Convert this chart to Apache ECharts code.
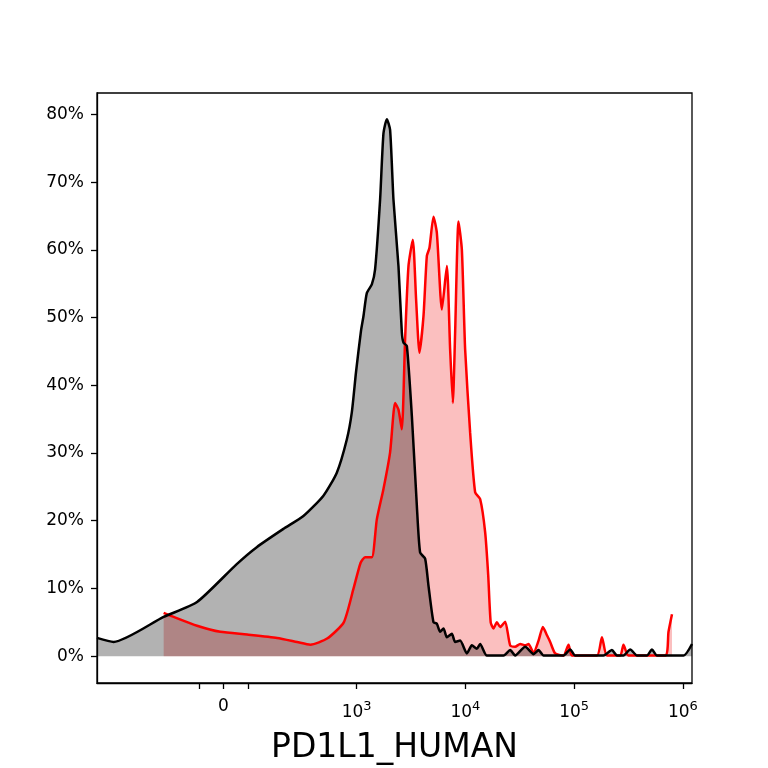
<!DOCTYPE html>
<html>
<head>
    <meta charset="UTF-8">
    <title>PD1L1_HUMAN</title>
    <script src="https://cdn.jsdelivr.net/npm/echarts@6.0.0/dist/echarts.min.js"></script>
    <style>
        html, body { margin: 0; padding: 0; background: #fff; }
        #main { width: 768px; height: 768px; }
    </style>
</head>
<body>
<div id="main"></div>
<script type="text/javascript">
    // x values are positions on the biexponential display axis (10^3 -> 3, 10^4 -> 4 ...)
    var xTickPos = [1.551, 1.775, 2.0, 3, 4, 5, 6];
    var xTickText = ['', '0', '', '10^3', '10^4', '10^5', '10^6'];
    var xLabelPos = [1.775, 3, 4, 5, 6];
    var yTicks = [0, 10, 20, 30, 40, 50, 60, 70, 80];

    // black (control) histogram, % of max
    var controlCurve = [
        [0.613, 2.7], [0.766, 2.1], [1.226, 5.8], [1.533, 8.0], [1.898, 13.6], [2.082, 16.1],
        [2.327, 18.8], [2.511, 20.7], [2.695, 23.7], [2.818, 27.1], [2.910, 32.0], [2.956, 36.0],
        [2.995, 42.0], [3.040, 48.0], [3.063, 50.2], [3.094, 53.6], [3.140, 54.9], [3.170, 57.1],
        [3.216, 67.4], [3.247, 77.2], [3.278, 79.3], [3.308, 77.7], [3.339, 67.4], [3.385, 57.6],
        [3.416, 47.8], [3.431, 46.3], [3.462, 45.8], [3.508, 35.5], [3.554, 22.2], [3.584, 15.3],
        [3.630, 14.4], [3.661, 10.4], [3.707, 5.0], [3.738, 4.8], [3.768, 3.6], [3.799, 4.1],
        [3.830, 2.8], [3.876, 3.3], [3.906, 2.1], [3.952, 2.3], [4.014, 0.4], [4.060, 1.6],
        [4.106, 1.1], [4.136, 1.8], [4.198, 0.1], [4.351, 0.1], [4.412, 0.9], [4.458, 0.1],
        [4.550, 1.4], [4.627, 0.3], [4.673, 0.9], [4.719, 0.1], [4.902, 0.1], [4.964, 1.0],
        [5.010, 0.1], [5.270, 0.1], [5.348, 0.9], [5.394, 0.1], [5.454, 0.1], [5.516, 1.0],
        [5.578, 0.1], [5.670, 0.1], [5.716, 1.0], [5.762, 0.1], [6.006, 0.1], [6.084, 1.8]
    ];

    // red (stained) histogram, % of max
    var stainedCurve = [
        [1.226, 6.4], [1.318, 5.8], [1.533, 4.5], [1.747, 3.6], [1.993, 3.2], [2.269, 2.7],
        [2.453, 2.1], [2.575, 1.7], [2.729, 2.6], [2.882, 5.0], [2.972, 10.0], [3.037, 13.8],
        [3.078, 14.6], [3.140, 14.6], [3.186, 20.2], [3.247, 24.7], [3.308, 30.1], [3.354, 37.4],
        [3.385, 36.4], [3.416, 33.5], [3.446, 46.8], [3.477, 57.6], [3.517, 61.5], [3.547, 52.7],
        [3.578, 44.8], [3.615, 50.2], [3.646, 59.1], [3.670, 60.3], [3.707, 64.9], [3.738, 62.5],
        [3.784, 51.2], [3.830, 57.6], [3.860, 45.3], [3.885, 37.4], [3.906, 47.8], [3.937, 64.2],
        [3.968, 60.0], [3.998, 45.3], [4.044, 33.0], [4.090, 24.2], [4.136, 23.2], [4.182, 18.3],
        [4.210, 12.0], [4.233, 5.0], [4.259, 4.1], [4.290, 5.0], [4.320, 4.3], [4.366, 5.1],
        [4.412, 1.6], [4.458, 1.4], [4.504, 1.8], [4.550, 1.6], [4.581, 1.8], [4.627, 0.5],
        [4.673, 2.3], [4.713, 4.3], [4.750, 3.1], [4.780, 2.1], [4.826, 0.4], [4.902, 0.1],
        [4.949, 1.7], [4.980, 0.1], [5.210, 0.1], [5.256, 2.8], [5.302, 0.1], [5.424, 0.1],
        [5.454, 1.7], [5.500, 0.1], [5.838, 0.1], [5.868, 3.6], [5.900, 6.2]
    ];

    var font = 'DejaVu Sans';

    function xLabel(value) {
        for (var i = 0; i < xTickPos.length; i++) {
            if (Math.abs(xTickPos[i] - value) < 1e-6) {
                var t = xTickText[i];
                if (t.indexOf('^') > 0) {
                    var p = t.split('^');
                    return '{b|' + p[0] + '}{s|' + p[1] + '}';
                }
                return t ? '{z|' + t + '}' : '';
            }
        }
        return '';
    }

    function fillSeries(data, color) {
        return {
            type: 'line',
            data: data,
            smooth: 0.2,
            showSymbol: false,
            silent: true,
            z: 1,
            lineStyle: {width: 0, opacity: 0},
            areaStyle: {color: color, opacity: 1}
        };
    }

    function lineSeries(data, color) {
        return {
            type: 'line',
            data: data,
            smooth: 0.2,
            showSymbol: false,
            silent: true,
            z: 3,
            lineStyle: {width: 2.5, color: color}
        };
    }

    var myChart = echarts.init(document.getElementById('main'));
    var option = {
        animation: false,
        backgroundColor: '#fff',
        grid: {
            left: 97, right: 76, top: 93, bottom: 85,
            outerBoundsMode: 'none',
            containLabel: false,
            show: true,
            borderColor: '#000',
            borderWidth: 1.3,
            backgroundColor: 'transparent'
        },
        xAxis: {
            type: 'value',
            min: 0.613,
            max: 6.084,
            name: 'PD1L1_HUMAN',
            nameLocation: 'middle',
            nameGap: 49,
            nameTextStyle: {fontFamily: font, fontSize: 33, color: '#000'},
            splitLine: {show: false},
            axisLine: {show: true, onZero: false, lineStyle: {color: '#000', width: 1.3}},
            axisTick: {show: true, length: 6, customValues: xTickPos, lineStyle: {color: '#000', width: 1.3}},
            axisLabel: {
                customValues: xLabelPos,
                margin: 19,
                formatter: xLabel,
                rich: {
                    b: {fontFamily: font, fontSize: 17, color: '#000', lineHeight: 19, verticalAlign: 'bottom'},
                    z: {fontFamily: font, fontSize: 17, color: '#000', lineHeight: 19, verticalAlign: 'bottom',
                        padding: [0, 0, 6, 0]},
                    s: {fontFamily: font, fontSize: 13, color: '#000', lineHeight: 13, verticalAlign: 'bottom',
                        padding: [0, 0, 8, 0]}
                }
            }
        },
        yAxis: {
            type: 'value',
            min: -3.96,
            max: 83.16,
            splitLine: {show: false},
            axisLine: {show: true, onZero: false, lineStyle: {color: '#000', width: 1.3}},
            axisTick: {show: true, length: 6, customValues: yTicks, lineStyle: {color: '#000', width: 1.3}},
            axisLabel: {
                customValues: yTicks,
                margin: 13,
                fontFamily: font,
                fontSize: 17,
                color: '#000',
                formatter: function (v) { return Math.round(v) + '%'; }
            }
        },
        series: [
            fillSeries(stainedCurve, 'rgba(240,0,0,0.25)'),
            fillSeries(controlCurve, 'rgba(0,0,0,0.3)'),
            lineSeries(stainedCurve, '#ff0000'),
            lineSeries(controlCurve, '#000000')
        ]
    };
    myChart.setOption(option);
</script>
</body>
</html>
